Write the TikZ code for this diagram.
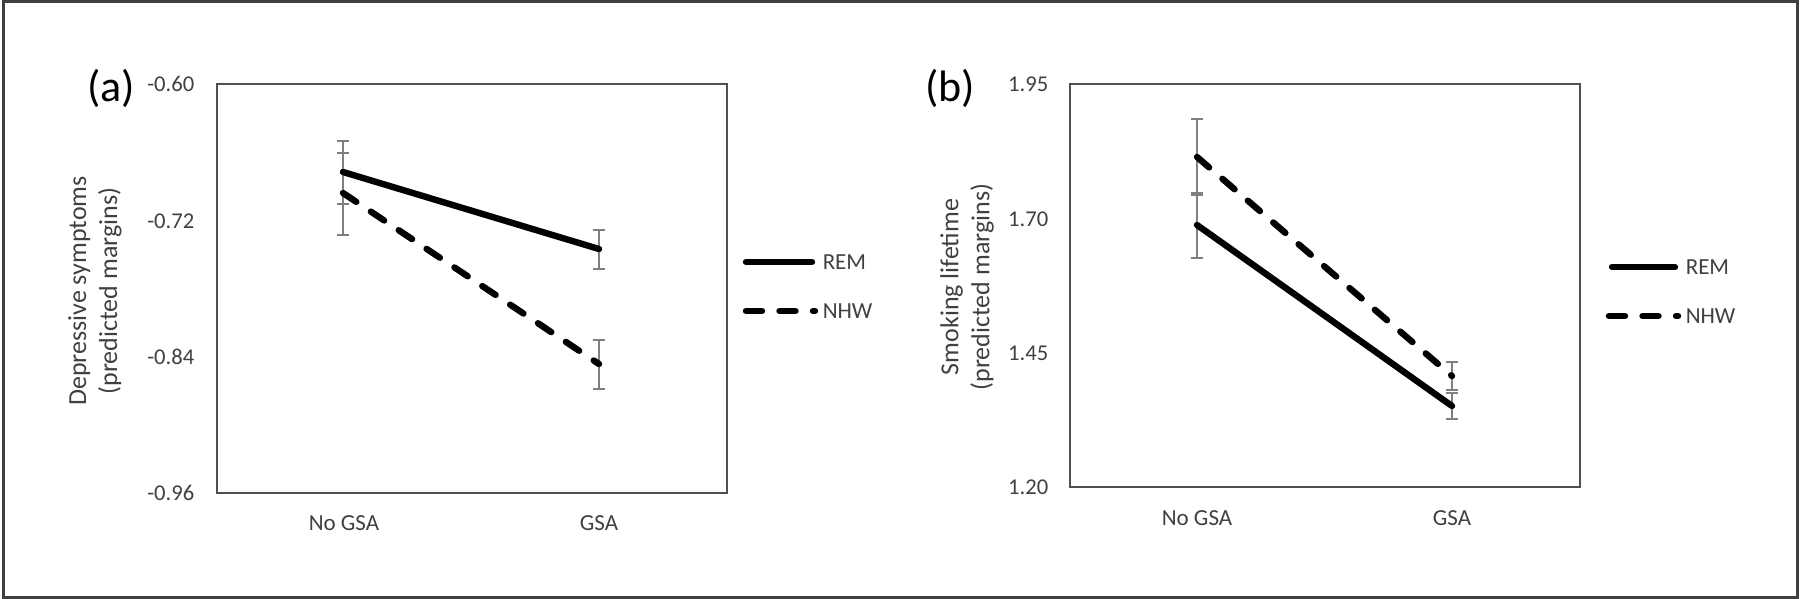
\documentclass[tikz,border=0pt]{standalone}
\usepackage{fontspec}
\setmainfont{Carlito}
\usetikzlibrary{arrows.meta}

\definecolor{framegray}{HTML}{404040}
\definecolor{axisgray}{HTML}{505050}
\definecolor{bargray}{HTML}{808080}
\definecolor{textgray}{HTML}{404040}

\tikzset{every picture/.style={line width=0.75pt}}

\begin{document}
\begin{tikzpicture}[x=0.5pt,y=0.5pt,yscale=-1,xscale=1,
	ticklabel/.style={anchor=east,inner sep=0pt,text=textgray,font=\fontsize{11.3}{13}\selectfont},
	catlabel/.style={inner sep=0pt,text=textgray,font=\fontsize{11.5}{13}\selectfont},
	leglabel/.style={anchor=west,inner sep=0pt,text=textgray,font=\fontsize{11.5}{13}\selectfont},
	axistitle/.style={rotate=90,align=center,inner sep=0pt,text=textgray,font=\fontsize{13}{15.5}\selectfont},
	panellabel/.style={inner sep=0pt,font=\fontsize{22}{26}\selectfont},
	plotbox/.style={draw=axisgray,line width=1pt},
	errbar/.style={draw=bargray,line width=1pt,{Bar[width=6pt,line width=1pt]}-{Bar[width=6pt,line width=1pt]}},
	remline/.style={line width=3.2pt,line cap=round},
	nhwline/.style={line width=3.2pt,line cap=round,dash pattern=on 8pt off 8.75pt}]
	\useasboundingbox (0,0) rectangle (1800,599);
	
	%Shape: Rectangle [id:frame] 
	\draw [draw=framegray,line width=1.5pt] (3,2) rectangle (1797,597) ;
	
	% ---------- panel (a) ----------
	%Shape: Rectangle [id:boxA] 
	\draw [plotbox] (217,84) rectangle (727,493) ;
	
	% Text Node
	\node [panellabel] (labA) at (111,88) {(a)};
	% Text Node
	\node [ticklabel] (tA1) at (195,84) {-0.60};
	% Text Node
	\node [ticklabel] (tA2) at (195,221) {-0.72};
	% Text Node
	\node [ticklabel] (tA3) at (195,357) {-0.84};
	% Text Node
	\node [ticklabel] (tA4) at (195,493) {-0.96};
	% Text Node
	\node [axistitle] (titA) at (95,291) {Depressive symptoms\\(predicted margins)};
	% Text Node
	\node [catlabel] (noA) at (344,523) {No GSA};
	% Text Node
	\node [catlabel] (gsaA) at (599,523) {GSA};
	
	%Error Bars
	\draw [errbar] (343,140) -- (343,205) ;
	\draw [errbar] (343,152) -- (343,236) ;
	\draw [errbar] (599,229) -- (599,270) ;
	\draw [errbar] (599,339) -- (599,390) ;
	
	% data points
	\coordinate (remA1) at (343,172);
	\coordinate (remA2) at (599,249);
	\coordinate (nhwA1) at (343,193);
	\coordinate (nhwA2) at (599,364);
	%Straight Lines [id:remA] 
	\draw [remline] (remA1) -- (remA2) ;
	%Straight Lines [id:nhwA] 
	\draw [nhwline] (nhwA1) -- (nhwA2) ;
	
	% legend
	\node [leglabel] (remkeyA) at (822,262) {REM};
	\node [leglabel] (nhwkeyA) at (822,311) {NHW};
	\coordinate (remstartA) at (746,262);
	\coordinate (nhwstartA) at (746,311);
	\draw [remline] (remstartA) -- ([xshift=-5pt]remkeyA.west) ;
	\draw [nhwline] (nhwstartA) -- ([xshift=-3.5pt]nhwkeyA.west) ;
	
	% ---------- panel (b) ----------
	%Shape: Rectangle [id:boxB] 
	\draw [plotbox] (1070,84) rectangle (1580,487) ;
	
	% Text Node
	\node [panellabel] (labB) at (950,88) {(b)};
	% Text Node
	\node [ticklabel] (tB1) at (1049,84) {1.95};
	% Text Node
	\node [ticklabel] (tB2) at (1049,219) {1.70};
	% Text Node
	\node [ticklabel] (tB3) at (1049,353) {1.45};
	% Text Node
	\node [ticklabel] (tB4) at (1049,487) {1.20};
	% Text Node
	\node [axistitle] (titB) at (967,287) {Smoking lifetime\\(predicted margins)};
	% Text Node
	\node [catlabel] (noB) at (1197,518) {No GSA};
	% Text Node
	\node [catlabel] (gsaB) at (1452,518) {GSA};
	
	%Error Bars
	\draw [errbar] (1197,118) -- (1197,196) ;
	\draw [errbar] (1197,192) -- (1197,259) ;
	\draw [errbar] (1452,361) -- (1452,391) ;
	\draw [errbar] (1452,392) -- (1452,420) ;
	
	% data points
	\coordinate (remB1) at (1197,225);
	\coordinate (remB2) at (1452,406);
	\coordinate (nhwB1) at (1197,157);
	\coordinate (nhwB2) at (1452,376);
	%Straight Lines [id:remB] 
	\draw [remline] (remB1) -- (remB2) ;
	%Straight Lines [id:nhwB] 
	\draw [nhwline] (nhwB1) -- (nhwB2) ;
	
	% legend
	\node [leglabel] (remkeyB) at (1685,267) {REM};
	\node [leglabel] (nhwkeyB) at (1685,316) {NHW};
	\coordinate (remstartB) at (1612,267);
	\coordinate (nhwstartB) at (1609,316);
	\draw [remline] (remstartB) -- ([xshift=-5pt]remkeyB.west) ;
	\draw [nhwline] (nhwstartB) -- ([xshift=-3.5pt]nhwkeyB.west) ;
	
\end{tikzpicture}
\end{document}
